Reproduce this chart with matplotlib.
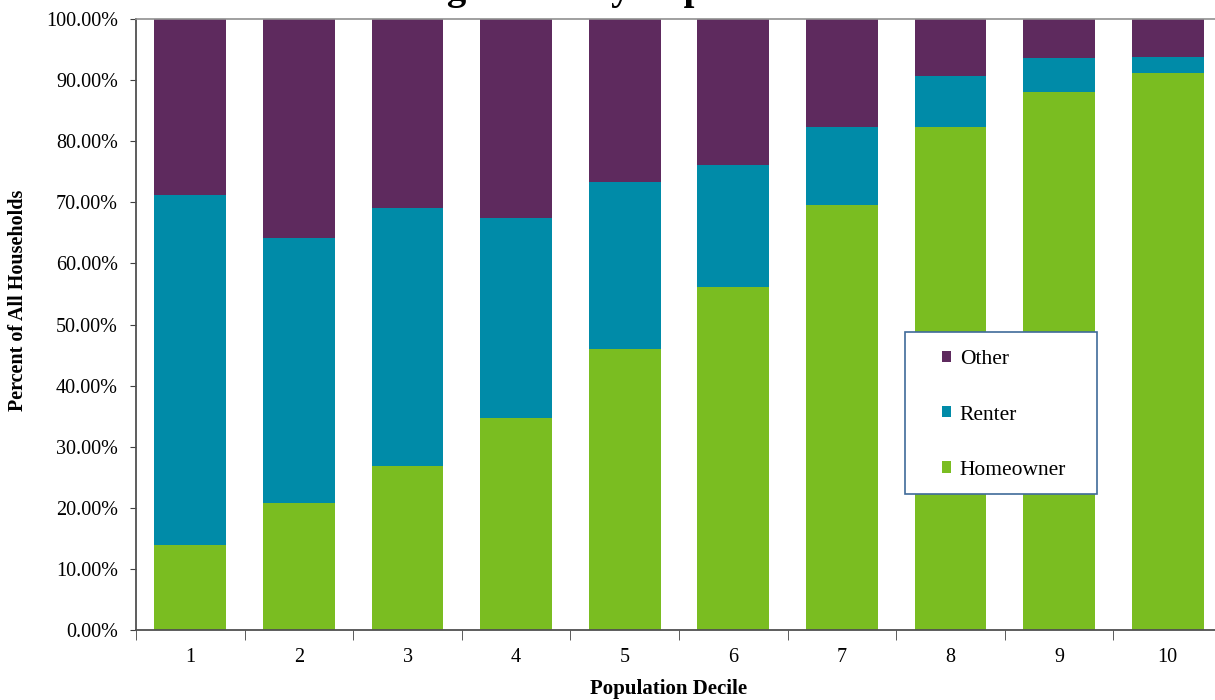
import matplotlib
matplotlib.use("Agg")
import matplotlib.pyplot as plt
import numpy as np
from matplotlib.ticker import FuncFormatter, MultipleLocator, FixedLocator
from matplotlib.patches import Rectangle

plt.rcParams['font.family'] = ['Liberation Serif', 'DejaVu Serif']

deciles = ['1', '2', '3', '4', '5', '6', '7', '8', '9', '10']
homeowner = [13.9, 20.8, 26.8, 34.7, 46.0, 56.1, 69.6, 82.3, 88.1, 91.2]
renter = [57.3, 43.4, 42.3, 32.7, 27.3, 20.0, 12.7, 8.4, 5.5, 2.6]
other = [28.8, 35.8, 30.9, 32.6, 26.7, 23.9, 17.7, 9.3, 6.4, 6.2]

c_home = '#7ABD21'
c_rent = '#008BA8'
c_other = '#5E2A5E'

W, H = 1215, 700
fig = plt.figure(figsize=(12.15, 7.0), dpi=100)
ax = fig.add_axes([136/W, 1-630/H, 1086/W, 611/H])

x = np.arange(len(deciles))
w = 0.66
h = np.array(homeowner)
r = np.array(renter)
o = np.array(other)
b1 = ax.bar(x, h, w, color=c_home, label='Homeowner', zorder=2)
b2 = ax.bar(x, r, w, bottom=h, color=c_rent, label='Renter', zorder=2)
b3 = ax.bar(x, o, w, bottom=h + r, color=c_other, label='Other', zorder=2)

ax.set_xlim(-0.5, len(deciles) - 0.5)
ax.set_ylim(0, 100)
ax.yaxis.set_major_locator(MultipleLocator(10))
ax.yaxis.set_major_formatter(FuncFormatter(lambda v, p: f"{v:.2f}%"))
ax.set_xticks(x)
ax.set_xticklabels(deciles)
ax.xaxis.set_minor_locator(FixedLocator(np.arange(-0.5, len(deciles), 1.0)))
ax.tick_params(axis='x', which='major', length=0, pad=13, labelsize=14.5)
ax.tick_params(axis='x', which='minor', length=7, color='#404040', direction='out')
ax.tick_params(axis='y', length=4.5, color='#404040', direction='out', labelsize=14.5, pad=8.5)

for s in ['left', 'bottom']:
    ax.spines[s].set_color('#505050')
    ax.spines[s].set_linewidth(1.3)
ax.spines['top'].set_color('#909090')
ax.spines['top'].set_linewidth(1.2)
ax.spines['right'].set_visible(False)

fig.text(18/W, (H-300)/H, 'Percent of All Households', rotation=90,
         ha='center', va='center', fontweight='bold', fontsize=14.5)
fig.text(669/W, (H-694)/H, 'Population Decile', ha='center', va='baseline',
         fontweight='bold', fontsize=15)

# legend frame
frame = Rectangle((905/W, 1-494/H), 192/W, 162/H, transform=fig.transFigure,
                  facecolor='white', edgecolor='#3F6B9A', linewidth=1.2, zorder=4)
fig.add_artist(frame)
leg = fig.legend(handles=[b3, b2, b1], loc='center left',
                 bbox_to_anchor=(942/W, 1-415/H),
                 frameon=False, fontsize=15.5,
                 handlelength=0.42, handleheight=0.42, handletextpad=0.4,
                 labelspacing=1.68, borderpad=0, borderaxespad=0)
leg.set_zorder(5)

fig.text(0.519, 1 + 1/H, 'Housing Status by Population Decile',
         ha='center', va='baseline', fontweight='bold', fontsize=28)

fig.savefig('out.png', dpi=100)
